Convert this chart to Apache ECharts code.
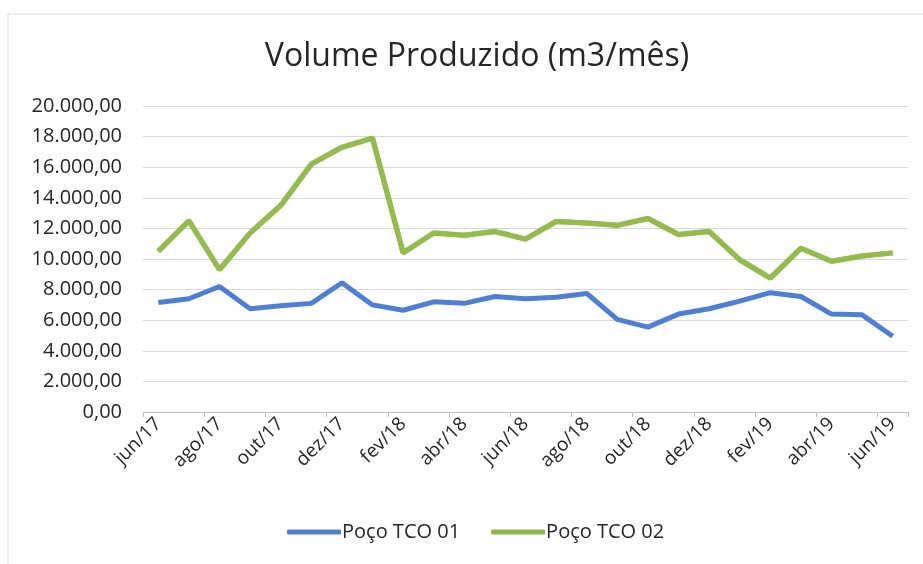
<!DOCTYPE html>
<html lang="pt">
<head>
  <meta charset="UTF-8">
  <script src="https://cdn.jsdelivr.net/npm/echarts@6/dist/echarts.min.js"></script>
  <title>Volume Produzido</title>
  <style>
    body { margin: 0; background: #fff; }
  </style>
</head>
<body>
  <div id="main" style="width: 923px;height:564px;"></div>
  <script type="text/javascript">
    // dados (m3/mês)
    var meses = ['jun/17','jul/17','ago/17','set/17','out/17','nov/17','dez/17',
                 'jan/18','fev/18','mar/18','abr/18','mai/18','jun/18','jul/18','ago/18','set/18','out/18','nov/18','dez/18',
                 'jan/19','fev/19','mar/19','abr/19','mai/19','jun/19'];
    var pocoTCO01 = [7150, 7400, 8200, 6750, 6950, 7100, 8450,
                     7000, 6650, 7200, 7100, 7550, 7400, 7500, 7750, 6050, 5550, 6400, 6750,
                     7250, 7800, 7550, 6400, 6350, 4950];
    var pocoTCO02 = [10500, 12500, 9300, 11700, 13500, 16200, 17300,
                     17900, 10400, 11700, 11550, 11800, 11300, 12450, 12350, 12200, 12650, 11600, 11800,
                     9950, 8750, 10700, 9850, 10200, 10400];

    var fonte = 'Open Sans';

    // 20000 -> "20.000,00"
    function formatBR(v) {
      var s = Math.round(v).toString().replace(/\B(?=(\d{3})+(?!\d))/g, '.');
      return s + ',00';
    }

    var myChart = echarts.init(document.getElementById('main'));

    var option = {
      backgroundColor: '#fff',
      animation: false,
      graphic: [{
        type: 'rect',
        shape: { x: 8, y: 14, width: 930, height: 570 },
        style: { fill: 'none', stroke: '#d9d9d9', lineWidth: 1 },
        silent: true
      }],
      title: {
        text: 'Volume Produzido (m3/mês)',
        left: 472,
        textAlign: 'center',
        top: 36,
        textStyle: { fontFamily: fonte, fontSize: 32, fontWeight: 'normal', color: '#262626' }
      },
      legend: {
        bottom: 17,
        left: 282,
        itemWidth: 54,
        itemHeight: 5,
        itemGap: 31,
        icon: 'roundRect',
        textStyle: { fontFamily: fonte, fontSize: 20, color: '#262626', padding: [0, 0, 0, -4] },
        data: ['Poço TCO 01', 'Poço TCO 02']
      },
      grid: { left: 143, right: 15, top: 106, bottom: 152 },
      xAxis: {
        type: 'category',
        data: meses,
        boundaryGap: true,
        axisLine: { lineStyle: { color: '#bfbfbf' } },
        axisTick: { show: true, interval: 1, length: 5, lineStyle: { color: '#bfbfbf' } },
        axisLabel: {
          interval: 1,
          rotate: 45,
          margin: 9,
          fontFamily: fonte, fontSize: 19, color: '#262626'
        }
      },
      yAxis: {
        type: 'value',
        min: 0,
        max: 20000,
        interval: 2000,
        axisLine: { show: false },
        axisTick: { show: false },
        splitLine: { lineStyle: { color: '#d9d9d9' } },
        axisLabel: {
          margin: 21,
          fontFamily: fonte, fontSize: 20, color: '#262626',
          formatter: formatBR
        }
      },
      series: [
        {
          name: 'Poço TCO 01',
          type: 'line',
          data: pocoTCO01,
          symbol: 'none',
          color: '#4f7fd4',
          lineStyle: { width: 5, color: '#4f7fd4' }
        },
        {
          name: 'Poço TCO 02',
          type: 'line',
          data: pocoTCO02,
          symbol: 'none',
          color: '#8fb847',
          lineStyle: { width: 5, color: '#93bc4a', shadowColor: 'rgba(60,90,20,0.6)', shadowBlur: 1 }
        }
      ]
    };

    myChart.setOption(option);
  </script>
</body>
</html>
